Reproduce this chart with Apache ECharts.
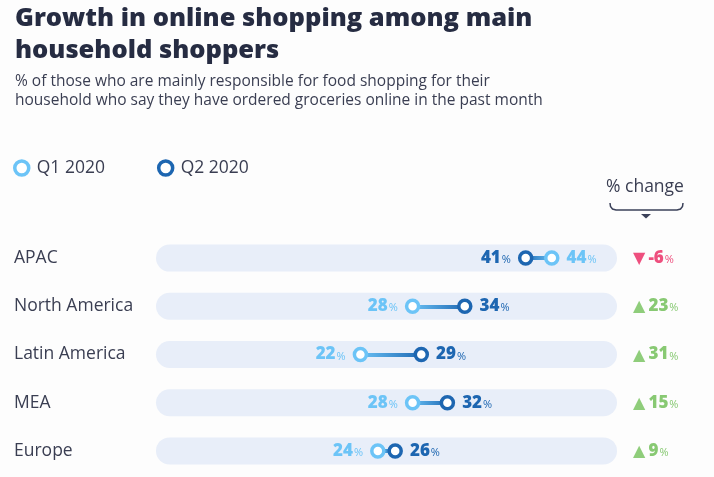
<!DOCTYPE html>
<html><head><meta charset="utf-8">
<script src="https://cdn.jsdelivr.net/npm/echarts@6/dist/echarts.min.js"></script>
<style>html,body{margin:0;padding:0;background:#fdfdfd}#c{width:714px;height:477px}</style>
</head><body><div id="c"></div>
<script>
var categories = ['APAC', 'North America', 'Latin America', 'MEA', 'Europe'];
var q1Values = [44, 28, 22, 28, 24];
var q2Values = [41, 34, 29, 32, 26];
var changeValues = [-6, 23, 31, 15, 9];
var seriesNames = ['Q1 2020', 'Q2 2020'];

var C1 = '#6cc4f7', C2 = '#1d66b1', TXT = '#3a3e52', NAVY = '#262c42';
var FONT = 'Open Sans';

function valLabel(color) {
  return {
    show: true, distance: 7,
    formatter: function (p) { return '{n|' + p.value[0] + '}{p|%}'; },
    rich: {
      n: { fontFamily: FONT, fontWeight: 800, fontSize: 17, color: color },
      p: { fontFamily: FONT, fontSize: 11, color: color, padding: [4, 0, 0, 1] }
    }
  };
}
function pointData(vals, other) {
  return vals.map(function (v, i) {
    return { value: [v, categories[i]], label: { position: v < other[i] ? 'left' : 'right' } };
  });
}
var lineData = categories.map(function (c, i) {
  var a = q1Values[i], b = q2Values[i];
  var leftColor = a < b ? C1 : C2, rightColor = a < b ? C2 : C1;
  return {
    coords: [[Math.min(a, b), c], [Math.max(a, b), c]],
    lineStyle: { color: new echarts.graphic.LinearGradient(0, 0, 1, 0, [
      { offset: 0, color: leftColor }, { offset: 1, color: rightColor }]) }
  };
});

var chart = echarts.init(document.getElementById('c'), null, { renderer: 'canvas' });
chart.setOption({
  backgroundColor: '#fdfdfd',
  animation: false,
  textStyle: { fontFamily: FONT },
  title: {
    text: 'Growth in online shopping among main\nhousehold shoppers',
    subtext: '% of those who are mainly responsible for food shopping for their\nhousehold who say they have ordered groceries online in the past month',
    left: 10, top: -2, itemGap: 5,
    textStyle: { fontFamily: FONT, fontWeight: 800, fontSize: 25.5, lineHeight: 32, color: NAVY },
    subtextStyle: { fontFamily: FONT, fontSize: 15.5, lineHeight: 19, color: TXT }
  },
  legend: {
    data: seriesNames, left: 13, top: 159, itemGap: 52, padding: 0,
    itemWidth: 14, itemHeight: 14, itemStyle: { borderWidth: 3.5 },
    textStyle: { fontFamily: FONT, fontSize: 17.5, color: TXT, padding: [0, 0, 0, 3] }
  },
  grid: { left: 156, right: 97, top: 234, bottom: 2 },
  xAxis: { type: 'value', min: -1.5, max: 51.5, show: false },
  yAxis: [{
    type: 'category', data: categories, inverse: true,
    axisLine: { show: false }, axisTick: { show: false }, splitLine: { show: false },
    axisLabel: { align: 'left', margin: 142, fontFamily: FONT, fontSize: 17.5, color: TXT, padding: [0, 0, 4, 0] }
  }, {
    type: 'category', data: categories, inverse: true, position: 'right',
    axisLine: { show: false }, axisTick: { show: false }, splitLine: { show: false },
    axisLabel: {
      align: 'left', margin: 16,
      formatter: function (v, i) {
        var c = changeValues[i];
        return c < 0 ? '{td|▼} {nd|' + c + '}{pd|%}' : '{tu|▲} {nu|' + c + '}{pu|%}';
      },
      rich: {
        tu: { fontFamily: 'DejaVu Sans', fontSize: 16, color: '#8fcd7b', padding: [2, 0, 0, 0] },
        td: { fontFamily: 'DejaVu Sans', fontSize: 16, color: '#ee4f7e', padding: [2, 0, 0, 0] },
        nu: { fontFamily: FONT, fontWeight: 800, fontSize: 17, color: '#88c973' },
        nd: { fontFamily: FONT, fontWeight: 800, fontSize: 17, color: '#ee4f7e' },
        pu: { fontFamily: FONT, fontSize: 11, color: '#88c973', padding: [4, 0, 0, 1] },
        pd: { fontFamily: FONT, fontSize: 11, color: '#ee4f7e', padding: [4, 0, 0, 1] }
      }
    }
  }],
  graphic: [
    { type: 'text', left: 606, top: 178, style: { text: '% change', fontFamily: FONT, fontSize: 17.5, fill: TXT } },
    { type: 'polyline', shape: { points: [[610, 203], [610.5, 206.5], [612.5, 209], [616, 210], [677, 210], [680.5, 209], [682.5, 206.5], [683, 203]] },
      style: { stroke: '#3b4159', lineWidth: 1.5, fill: null } },
    { type: 'polygon', shape: { points: [[641, 214], [651, 214], [646, 218.5]] }, style: { fill: '#3b4159' } }
  ],
  series: [{
    type: 'bar', data: categories.map(function () { return 0; }),
    barWidth: 27, showBackground: true,
    backgroundStyle: { color: '#e8eef9', borderRadius: 13.5 },
    itemStyle: { color: 'rgba(0,0,0,0)' }, silent: true, z: 1
  }, {
    type: 'lines', coordinateSystem: 'cartesian2d', data: lineData,
    lineStyle: { width: 4, opacity: 1 }, z: 2, silent: true
  }, {
    name: seriesNames[0], type: 'scatter', data: pointData(q1Values, q2Values),
    symbol: 'circle', symbolSize: 12, z: 3,
    itemStyle: { color: '#fff', borderColor: C1, borderWidth: 3.5, opacity: 1 },
    label: valLabel(C1)
  }, {
    name: seriesNames[1], type: 'scatter', data: pointData(q2Values, q1Values),
    symbol: 'circle', symbolSize: 12, z: 4,
    itemStyle: { color: '#fff', borderColor: C2, borderWidth: 3.5, opacity: 1 },
    label: valLabel(C2)
  }]
});
</script></body></html>
